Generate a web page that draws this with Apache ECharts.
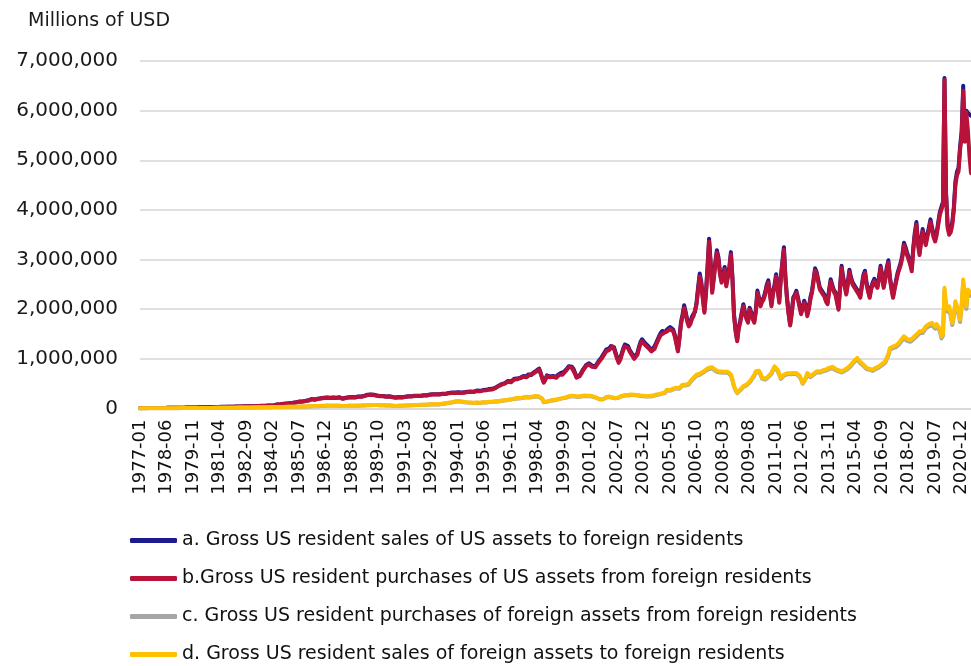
<!DOCTYPE html>
<html>
<head>
<meta charset="utf-8">
<script src="https://cdn.jsdelivr.net/npm/echarts@6/dist/echarts.min.js"></script>
<style>
  html, body { margin: 0; padding: 0; background: #fff; }
  #chart { width: 971px; height: 666px; }
</style>
</head>
<body>
<div id="chart"></div>
<script>
// monthly categories 1977-01 .. 2021-06
var months = [];
for (var y = 1977; y <= 2021; y++) {
    for (var m = 1; m <= 12; m++) {
        if (y == 2021 && m > 6) break;
        months.push(y + "-" + (m < 10 ? "0" + m : m));
    }
}

var yTicks = [0, 1000, 2000, 3000, 4000, 5000, 6000, 7000]; // billions -> shown as millions

var seriesNames = [
    "a. Gross US resident sales of US assets to foreign residents",
    "b.Gross US resident purchases of US assets from foreign residents",
    "c. Gross US resident purchases of foreign assets from foreign residents",
    "d. Gross US resident sales of foreign assets to foreign residents"
];

// values in billions of USD (axis shows millions)
var salesUS = [
    7,7,8,8,8,8,9,9,9,9,10,10,
    10,11,12,12,12,13,13,13,14,14,14,15,
    15,16,17,17,17,18,18,18,19,20,20,21,
    22,23,23,23,25,25,25,27,28,27,28,30,
    29,31,32,31,33,34,33,35,36,35,37,38,
    37,39,40,39,41,42,43,42,44,45,46,45,
    47,48,49,52,50,52,54,55,54,56,58,59,
    60,62,67,72,83,85,88,91,95,98,101,105,
    108,114,116,122,126,132,139,134,142,147,153,157,
    165,176,191,176,181,186,196,201,206,211,217,219,
    222,232,216,227,222,211,216,222,227,206,201,211,
    216,222,227,222,232,237,227,232,242,247,242,252,
    258,268,278,289,283,273,278,268,263,258,252,247,
    252,247,242,237,247,242,232,227,222,227,232,222,
    227,232,237,242,247,242,247,252,258,252,258,263,
    258,263,268,273,268,278,283,278,289,294,289,283,
    289,294,299,304,299,309,314,309,320,325,320,314,
    325,330,320,314,325,330,340,335,345,350,340,356,
    361,350,356,366,371,361,376,381,392,386,397,407,
    420,440,460,472,492,482,512,532,553,563,543,573,
    598,588,603,614,624,634,655,665,645,686,696,676,
    717,737,758,778,805,717,615,533,595,667,656,646,
    636,657,667,637,678,698,719,698,739,770,811,852,
    873,842,801,719,637,602,668,719,780,821,873,910,
    910,884,864,849,854,895,946,977,1030,1080,1132,1185,
    1155,1215,1257,1290,1235,1133,1030,950,1010,1113,1215,1290,
    1290,1257,1185,1133,1082,1032,1015,1113,1237,1340,1395,1358,
    1316,1286,1255,1214,1183,1195,1235,1316,1388,1460,1520,1562,
    1560,1540,1590,1622,1642,1630,1592,1490,1338,1185,1440,1745,
    1895,2080,1945,1790,1695,1742,1845,1905,1948,2150,2455,2720,
    2550,2245,1970,2345,2855,3420,2950,2375,2650,2950,3190,3050,
    2745,2580,2695,2850,2505,2545,2850,3150,2640,1900,1585,1380,
    1635,1770,1940,2100,1940,1840,1770,2030,1940,1835,1765,1990,
    2375,2240,2100,2190,2235,2345,2495,2580,2340,2100,2345,2495,
    2705,2440,2170,2645,2950,3250,2645,2235,1935,1700,1935,2235,
    2290,2370,2240,2085,1935,2035,2170,2085,1895,2035,2240,2370,
    2595,2825,2745,2595,2445,2390,2340,2290,2190,2135,2395,2605,
    2490,2390,2340,2190,2025,2445,2875,2645,2490,2335,2545,2795,
    2645,2540,2490,2470,2390,2340,2270,2490,2695,2775,2540,2390,
    2270,2440,2540,2610,2520,2470,2645,2875,2695,2470,2640,2845,
    2985,2645,2440,2270,2440,2590,2745,2845,2950,3100,3340,3250,
    3140,3045,2945,2810,3250,3550,3755,3350,3140,3400,3615,3450,
    3340,3500,3650,3810,3650,3500,3415,3550,3755,3955,4060,4160,
    6660,4360,3700,3550,3600,3755,4060,4570,4770,4845,5280,5580,
    6500,5400,6000,5950,5920,5900
];

var purchUS = [
    6,7,7,8,7,8,8,9,9,8,9,10,
    10,11,11,12,11,12,13,12,13,14,13,14,
    15,15,16,17,16,17,18,17,19,20,19,20,
    21,22,23,22,24,25,24,26,27,26,28,29,
    28,30,31,30,32,33,32,34,35,34,36,37,
    36,38,39,38,40,41,42,41,43,44,45,44,
    46,47,48,50,49,51,52,53,52,54,56,57,
    58,60,65,70,80,82,85,88,92,95,98,102,
    105,110,112,118,122,128,135,130,138,142,148,152,
    160,170,185,170,175,180,190,195,200,205,210,212,
    215,225,210,220,215,205,210,215,220,200,195,205,
    210,215,220,215,225,230,220,225,235,240,235,245,
    250,260,270,280,275,265,270,260,255,250,245,240,
    245,240,235,230,240,235,225,220,215,220,225,215,
    220,225,230,235,240,235,240,245,250,245,250,255,
    250,255,260,265,260,270,275,270,280,285,280,275,
    280,285,290,295,290,300,305,300,310,315,310,305,
    315,320,310,305,315,320,330,325,335,340,330,345,
    350,340,345,355,360,350,365,370,380,375,385,395,
    410,430,450,460,480,470,500,520,540,550,530,560,
    585,575,590,600,610,620,640,650,630,670,680,660,
    700,720,740,760,785,700,600,520,580,650,640,630,
    620,640,650,620,660,680,700,680,720,750,790,830,
    850,820,780,700,620,585,650,700,760,800,850,885,
    885,860,840,825,830,870,920,950,1000,1050,1100,1150,
    1120,1180,1220,1250,1200,1100,1000,920,980,1080,1180,1250,
    1250,1220,1150,1100,1050,1000,985,1080,1200,1300,1355,1320,
    1280,1250,1220,1180,1150,1160,1200,1280,1350,1420,1480,1520,
    1520,1500,1550,1580,1600,1590,1550,1450,1300,1150,1400,1700,
    1850,2025,1900,1750,1655,1700,1800,1860,1900,2100,2400,2660,
    2500,2200,1930,2300,2800,3365,2900,2330,2600,2900,3140,3000,
    2700,2535,2650,2800,2460,2500,2800,3100,2600,1860,1550,1355,
    1600,1730,1900,2060,1900,1800,1730,1990,1900,1800,1730,1950,
    2330,2200,2060,2150,2195,2300,2450,2535,2300,2060,2300,2450,
    2660,2400,2130,2600,2900,3200,2600,2195,1900,1670,1900,2195,
    2250,2330,2200,2050,1900,2000,2130,2050,1860,2000,2200,2330,
    2550,2780,2700,2550,2400,2350,2300,2250,2150,2100,2350,2560,
    2450,2350,2300,2150,1990,2400,2830,2600,2450,2295,2500,2750,
    2600,2500,2450,2430,2350,2300,2230,2450,2650,2730,2500,2350,
    2230,2400,2500,2565,2480,2430,2600,2830,2650,2430,2600,2800,
    2935,2600,2400,2230,2400,2550,2700,2800,2900,3050,3290,3200,
    3090,3000,2900,2765,3200,3500,3700,3300,3090,3350,3565,3400,
    3290,3450,3600,3755,3600,3450,3365,3500,3700,3900,4000,4100,
    6620,4300,3640,3500,3550,3700,4000,4505,4700,4775,5210,5500,
    6400,5375,5970,5600,5100,4740
];

var purchForeign = [
    2,2,3,3,3,3,3,4,4,4,4,4,
    4,5,5,5,5,6,6,6,6,6,6,7,
    7,7,7,7,8,8,8,8,8,9,9,9,
    9,9,10,10,10,10,11,11,11,11,12,12,
    12,12,13,13,13,14,14,14,15,15,15,16,
    16,16,17,17,18,18,18,19,19,20,20,21,
    21,22,22,23,23,24,24,25,25,26,26,27,
    27,28,28,29,29,30,30,31,31,32,32,33,
    33,34,35,35,36,37,37,38,39,39,40,41,
    41,43,45,44,46,48,47,49,51,50,52,54,
    56,58,55,57,53,52,54,56,55,50,48,51,
    50,52,53,51,54,55,53,56,57,55,58,60,
    61,63,66,68,66,64,68,70,68,66,64,63,
    64,62,60,58,61,59,56,53,50,52,54,53,
    54,56,58,60,62,61,63,65,66,64,68,70,
    71,73,75,77,75,79,81,79,82,85,83,81,
    83,87,92,96,101,106,111,116,121,130,135,140,
    145,140,135,130,125,123,120,115,117,113,110,113,
    115,113,110,117,120,115,123,125,130,128,133,135,
    139,144,142,149,154,152,159,164,169,174,179,188,
    193,198,203,208,203,212,217,222,227,232,222,227,
    232,237,242,237,232,222,192,124,114,134,144,154,
    158,163,168,173,183,188,193,203,207,217,227,237,
    242,247,247,242,237,232,237,242,247,252,250,247,
    252,247,242,232,222,207,193,183,173,183,203,222,
    237,232,227,217,207,203,207,217,232,247,257,262,
    257,262,267,272,272,270,267,262,257,252,250,247,
    242,240,237,242,247,252,262,272,277,282,292,302,
    305,318,366,347,357,376,386,396,405,415,400,425,
    465,498,464,435,484,533,562,601,630,659,669,679,
    694,718,737,762,777,796,826,806,777,757,738,728,
    728,723,733,718,728,718,698,664,566,435,367,309,
    328,367,406,435,454,464,484,523,566,601,659,727,
    762,737,679,601,566,581,601,630,659,698,762,826,
    806,757,679,596,630,664,679,689,694,689,694,694,
    698,694,669,640,581,498,542,601,694,659,630,640,
    679,708,727,718,723,737,747,757,762,777,796,826,
    816,796,777,762,747,737,727,737,757,777,796,826,
    855,894,933,972,991,952,913,874,860,826,796,777,
    777,762,757,777,796,826,826,845,874,904,923,957,
    1070,1187,1206,1216,1226,1236,1255,1294,1343,1382,1416,1401,
    1362,1353,1343,1362,1392,1421,1450,1480,1514,1499,1519,1558,
    1612,1636,1656,1665,1680,1646,1607,1656,1675,1558,1411,1460,
    2370,2045,1948,2006,1850,1680,1850,2104,2070,1899,1743,2045,
    2535,2190,2006,2333,2298,2270
];

var salesForeign = [
    3,3,3,4,4,4,4,4,5,5,5,5,
    5,5,6,6,6,6,6,7,7,7,7,7,
    7,8,8,8,8,8,9,9,9,9,9,10,
    10,10,10,11,11,11,11,12,12,12,12,13,
    13,13,14,14,14,15,15,15,16,16,16,17,
    17,17,18,18,19,19,19,20,20,21,21,22,
    22,23,23,24,24,25,25,26,26,27,27,28,
    28,29,29,30,30,31,31,32,32,33,33,34,
    34,35,36,36,37,38,38,39,40,40,41,42,
    43,45,47,46,48,50,49,51,53,52,54,56,
    58,60,57,59,55,54,56,58,57,52,50,53,
    52,54,55,53,56,57,55,58,59,57,60,62,
    63,65,68,70,68,66,70,72,70,68,66,65,
    66,64,62,60,63,61,58,55,52,54,56,55,
    56,58,60,62,64,63,65,67,68,66,70,72,
    74,76,78,80,78,82,84,82,85,88,86,84,
    86,90,95,100,105,110,115,120,125,135,140,145,
    150,145,140,135,130,128,125,120,122,118,115,118,
    120,118,115,122,125,120,128,130,135,133,138,140,
    145,150,148,155,160,158,165,170,175,180,185,195,
    200,205,210,215,210,220,225,230,235,240,230,235,
    240,245,250,245,240,230,200,130,120,140,150,160,
    165,170,175,180,190,195,200,210,215,225,235,245,
    250,255,255,250,245,240,245,250,255,260,258,255,
    260,255,250,240,230,215,200,190,180,190,210,230,
    245,240,235,225,215,210,215,225,240,255,265,270,
    265,270,275,280,280,278,275,270,265,260,258,255,
    250,248,245,250,255,260,270,280,285,290,300,310,
    315,330,380,360,370,390,400,410,420,430,415,440,
    480,515,480,450,500,550,580,620,650,680,690,700,
    715,740,760,785,800,820,850,830,800,780,760,750,
    750,745,755,740,750,740,720,685,585,450,380,320,
    340,380,420,450,470,480,500,540,585,620,680,750,
    785,760,700,620,585,600,620,650,680,720,785,850,
    830,780,700,615,650,685,700,710,715,710,715,715,
    720,715,690,660,600,515,560,620,715,680,650,660,
    700,730,750,740,745,760,770,780,785,800,820,850,
    840,820,800,785,770,760,750,760,780,800,820,850,
    880,920,960,1000,1020,980,940,900,885,850,820,800,
    800,785,780,800,820,850,850,870,900,930,950,985,
    1100,1220,1240,1250,1260,1270,1290,1330,1380,1420,1455,1440,
    1400,1390,1380,1400,1430,1460,1490,1520,1555,1540,1560,1600,
    1655,1680,1700,1710,1725,1690,1650,1700,1720,1600,1450,1500,
    2430,2100,2000,2060,1900,1725,1900,2160,2125,1950,1790,2100,
    2600,2250,2060,2395,2360,2330
];

var seriesColors = ["#1c1a8e", "#b8123a", "#a6a6a6", "#ffc000"];
var seriesData = [salesUS, purchUS, purchForeign, salesForeign];

var myChart = echarts.init(document.getElementById("chart"), null, { renderer: "canvas" });

var series = [];
for (var i = 0; i < seriesData.length; i++) {
    series.push({
        name: seriesNames[i],
        type: "line",
        data: seriesData[i],
        symbol: "none",
        lineStyle: { width: 4, color: seriesColors[i], join: "round", cap: "round" },
        itemStyle: { color: seriesColors[i] },
        z: 2 + i
    });
}

var option = {
    animation: false,
    backgroundColor: "#fff",
    title: {
        text: "Millions of USD",
        left: 23,
        top: 7,
        textStyle: { fontFamily: "DejaVu Sans", fontSize: 19, fontWeight: "normal", color: "#1a1a1a" }
    },
    legend: {
        orient: "vertical",
        left: 125,
        top: 526,
        height: 150,
        itemWidth: 47,
        itemHeight: 5,
        itemGap: 19,
        icon: "roundRect",
        data: seriesNames,
        textStyle: { fontFamily: "DejaVu Sans", fontSize: 19, color: "#111" }
    },
    grid: { left: 140, right: 0, top: 61, bottom: 257.5 },
    xAxis: {
        type: "category",
        data: months,
        boundaryGap: false,
        axisLine: { show: true, lineStyle: { color: "#d6d6d6", width: 1.5 } },
        axisTick: { show: false },
        axisLabel: {
            interval: 16,
            rotate: 90,
            margin: 11,
            fontFamily: "DejaVu Sans",
            fontSize: 18,
            color: "#111"
        },
        splitLine: { show: false }
    },
    yAxis: {
        type: "value",
        min: yTicks[0],
        max: yTicks[yTicks.length - 1],
        interval: 1000,
        axisLine: { show: false },
        axisTick: { show: false },
        axisLabel: {
            margin: 22,
            fontFamily: "DejaVu Sans",
            fontSize: 20,
            color: "#1a1a1a",
            formatter: function (v) { return (v * 1000).toLocaleString("en-US"); }
        },
        splitLine: { lineStyle: { color: "#d6d6d6", width: 1.5 } }
    },
    series: series
};

myChart.setOption(option);
</script>
</body>
</html>
